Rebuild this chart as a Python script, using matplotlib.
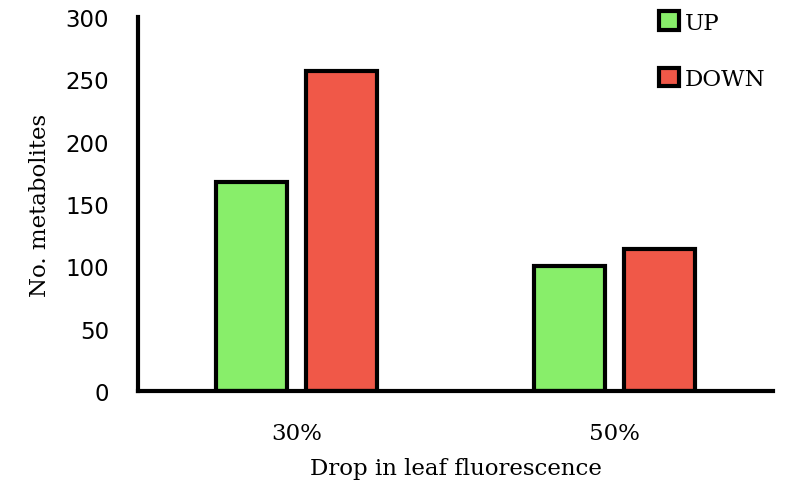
import numpy as np
import matplotlib
matplotlib.use("Agg")
import matplotlib.pyplot as plt
from matplotlib.patches import Patch

# Metabolite counts by leaf fluorescence drop
groups = ["30%", "50%"]
up_counts = [168, 100]
down_counts = [257, 114]

green = "#88EE6A"
red = "#F05848"

fig = plt.figure(figsize=(7.94, 4.89), dpi=100)
ax = fig.add_axes([0.1738, 0.1984, 0.80, 0.7648])

x = np.arange(len(groups))
width = 0.224
offset = 0.142
ax.bar(x - offset, up_counts, width, color=green, edgecolor="black", linewidth=3, label="UP")
ax.bar(x + offset, down_counts, width, color=red, edgecolor="black", linewidth=3, label="DOWN")

ax.set_xlim(-0.5, 1.5)
ax.set_ylim(0, 300)
ax.set_yticks(range(0, 301, 50))
ax.set_xticks(x)
ax.set_xticklabels(groups, fontsize=16.5, family="DejaVu Serif")
ax.tick_params(axis="both", length=0)
ax.tick_params(axis="y", labelsize=16.5, pad=21)
ax.tick_params(axis="x", pad=22)

for side in ["top", "right"]:
    ax.spines[side].set_visible(False)
for side in ["left", "bottom"]:
    ax.spines[side].set_linewidth(3)

ax.set_ylabel("No. metabolites", fontsize=16.5, family="DejaVu Serif", labelpad=10)
ax.set_xlabel("Drop in leaf fluorescence", fontsize=16.5, family="DejaVu Serif", labelpad=10)

handles = [Patch(facecolor=green, edgecolor="black", linewidth=3, label="UP"),
           Patch(facecolor=red, edgecolor="black", linewidth=3, label="DOWN")]
ax.legend(handles=handles, loc="upper right", bbox_to_anchor=(1.02, 1.07), frameon=False,
          prop={"family": "DejaVu Serif", "size": 16.5}, handlelength=0.85, handleheight=0.85,
          handletextpad=0.25, labelspacing=1.5)

fig.savefig("out.png", dpi=100)
